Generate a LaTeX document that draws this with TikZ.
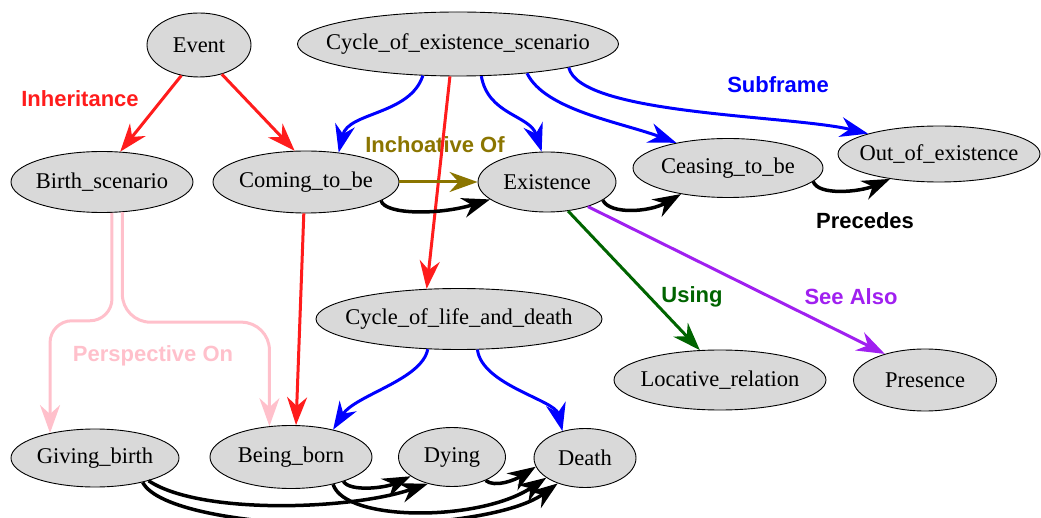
\documentclass[tikz,border=0pt]{standalone}
\usepackage{fontspec}
\setmainfont{Liberation Serif}
\newfontfamily\lblfont{Liberation Sans}
\usetikzlibrary{arrows.meta,shapes.geometric}

\definecolor{framegray}{RGB}{217,217,217}
\definecolor{inhred}{RGB}{255,28,28}
\definecolor{subblue}{RGB}{0,0,255}
\definecolor{incholive}{RGB}{139,117,0}
\definecolor{usegreen}{RGB}{0,100,0}
\definecolor{seepurple}{RGB}{160,32,240}
\definecolor{perspink}{RGB}{255,192,203}

\tikzset{
  frame/.style={ellipse, draw, line width=0.9pt, fill=framegray, inner xsep=-40pt, inner ysep=-20pt,
    minimum height=60pt, font=\fontsize{22.5}{27}\selectfont},
  rel/.style={line width=3pt, -{Stealth[length=28pt,width=20pt,inset=9pt]}},
  prec/.style={rel, line width=3.5pt, black},
  rellabel/.style={font=\lblfont\bfseries\fontsize{22}{26}\selectfont}
}

\begin{document}
\begin{tikzpicture}[x=1pt,y=1pt,yscale=-1,xscale=1]
\useasboundingbox (0,0) rectangle (1041,518);

% Frames
\node[frame, minimum width=104pt, minimum height=64pt] (event) at (199,45) {Event};
\node[frame, minimum width=321pt, minimum height=64pt] (cycexist) at (458,44) {Cycle\_of\_existence\_scenario};
\node[frame, minimum width=182pt, minimum height=61pt] (birthsc) at (102,182) {Birth\_scenario};
\node[frame, minimum width=186pt, minimum height=62pt] (coming) at (306,182) {Coming\_to\_be};
\node[frame, minimum width=138pt] (existence) at (547,182) {Existence};
\node[frame, minimum width=190pt, minimum height=59pt] (ceasing) at (728,168) {Ceasing\_to\_be};
\node[frame, minimum width=202pt, minimum height=56pt] (outofex) at (939,154) {Out\_of\_existence};
\node[frame, minimum width=286pt, minimum height=61pt] (lifedeath) at (459,319) {Cycle\_of\_life\_and\_death};
\node[frame, minimum width=212pt] (locative) at (720,380) {Locative\_relation};
\node[frame, minimum width=143pt, minimum height=62pt] (presence) at (925,380) {Presence};
\node[frame, minimum width=168pt, minimum height=58pt] (giving) at (95,458) {Giving\_birth};
\node[frame, minimum width=162pt, minimum height=63pt] (beingborn) at (291,457) {Being\_born};
\node[frame, minimum width=107pt, minimum height=59pt] (dying) at (452,457) {Dying};
\node[frame, minimum width=102pt, minimum height=59pt] (death) at (585,458) {Death};

% Text Node
\node[rellabel, text=inhred] (inhlabel) at (80,99) {Inheritance};
% Text Node
\node[rellabel, text=subblue] (sublabel) at (778,85) {Subframe};
% Text Node
\node[rellabel, text=incholive] (inchlabel) at (435,145) {Inchoative Of};
% Text Node
\node[rellabel, text=black] (preclabel) at (865,221) {Precedes};
% Text Node
\node[rellabel, text=usegreen] (uselabel) at (692,297) {Using};
% Text Node
\node[rellabel, text=seepurple] (seelabel) at (851,297) {See Also};
% Text Node
\node[rellabel, text=perspink] (perslabel) at (153,356) {Perspective On};

%Straight Lines
\draw[rel, inhred] (event.240) -- (birthsc.59);
\draw[rel, inhred] (event.308) -- (coming.110);
\draw[rel, inhred] (coming.266) -- (beingborn.81);
\draw[rel, inhred] (cycexist.256) -- (lifedeath.137);

%Curve Lines
\draw[rel, subblue] (cycexist.222) .. controls (410,115) and (348,112) .. (coming.42);
\draw[rel, subblue] (cycexist.306) .. controls (488,115) and (530,115) .. (existence.100);
\draw[rel, subblue] (cycexist.337) .. controls (545,110) and (620,122) .. (ceasing.154);
\draw[rel, subblue] (cycexist.348) .. controls (580,115) and (790,115) .. (outofex.164);
\draw[rel, subblue] (lifedeath.224) .. controls (422,380) and (355,395) .. (beingborn.33);
\draw[rel, subblue] (lifedeath.301) .. controls (482,385) and (555,400) .. (death.130);

%Straight Lines
\draw[rel, incholive] (coming) -- (existence);

%Curve Lines
\draw[prec] (coming.346) .. controls (385,215) and (440,215) .. (existence.197);
\draw[prec] (existence.342) .. controls (610,215) and (650,212) .. (ceasing.209);
\draw[prec] (ceasing.351) .. controls (818,196) and (860,192) .. (outofex.207);
\draw[prec] (giving.337) .. controls (200,515) and (350,510) .. (dying.228);
\draw[prec] (giving.333) .. controls (170,535) and (480,540) .. (death.223);
\draw[prec] (beingborn.335) .. controls (350,492) and (385,488) .. (dying.205);
\draw[prec] (beingborn.327) .. controls (345,522) and (480,522) .. (death.207);
\draw[prec] (dying.325) .. controls (495,488) and (515,480) .. (death.190);

%Straight Lines
\draw[rel, usegreen] (existence.306) -- (locative.124);
\draw[rel, seepurple] (existence.329) -- (presence.147);

%Curve Lines
\draw[rel, perspink, rounded corners=22pt] (birthsc.288) -- ++(0,108) -| (giving.151);
\draw[rel, perspink, rounded corners=28pt] (birthsc.304) -- ++(0,110) -| (beingborn.125);

\end{tikzpicture}
\end{document}
